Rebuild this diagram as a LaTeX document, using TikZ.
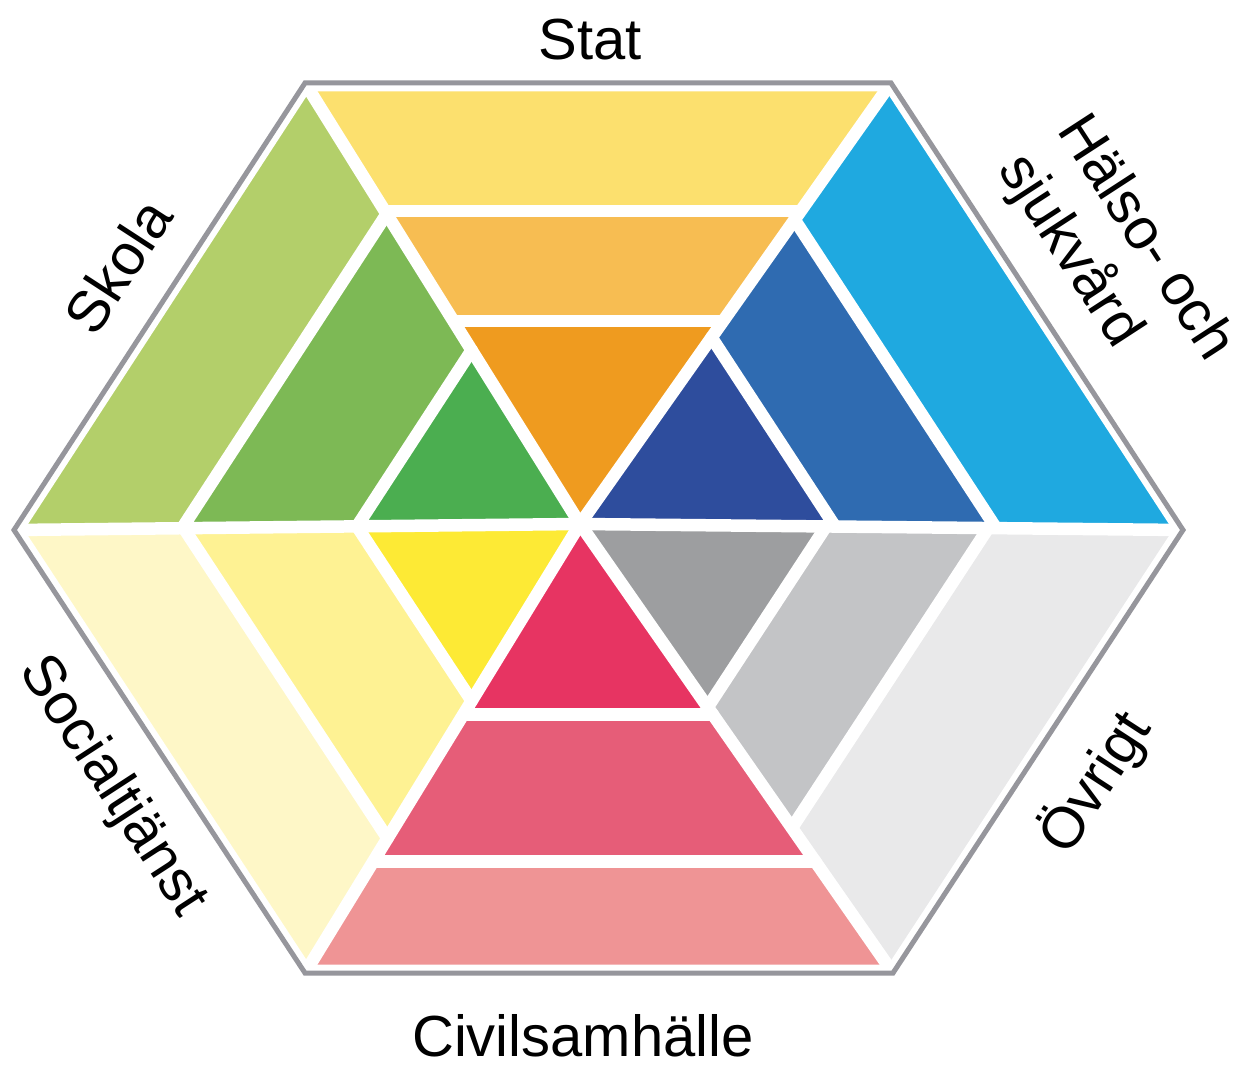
\documentclass[tikz,border=0pt]{standalone}
\usepackage{fontspec}
\setmainfont{Liberation Sans}
\usetikzlibrary{calc}

\definecolor{statOut}{HTML}{FCE06E}
\definecolor{statMid}{HTML}{F7BD52}
\definecolor{statIn}{HTML}{EF9B1F}
\definecolor{halsoOut}{HTML}{1FA9E0}
\definecolor{halsoMid}{HTML}{2F6BB1}
\definecolor{halsoIn}{HTML}{2E4D9D}
\definecolor{ovrOut}{HTML}{E9E9EA}
\definecolor{ovrMid}{HTML}{C3C4C6}
\definecolor{ovrIn}{HTML}{9D9EA0}
\definecolor{civOut}{HTML}{EF9495}
\definecolor{civMid}{HTML}{E65D78}
\definecolor{civIn}{HTML}{E73462}
\definecolor{socOut}{HTML}{FEF7C7}
\definecolor{socMid}{HTML}{FEF293}
\definecolor{socIn}{HTML}{FDEA35}
\definecolor{skolaOut}{HTML}{B3CF6A}
\definecolor{skolaMid}{HTML}{7DB955}
\definecolor{skolaIn}{HTML}{4BAE50}
\definecolor{rimgray}{HTML}{96969C}

\begin{document}
\begin{tikzpicture}[x=0.02cm,y=-0.02cm,
    gap/.style={draw=white,line width=0.25cm,line cap=round},
    rim/.style={draw=rimgray,line width=0.1cm,line join=miter},
    lbl/.style={font=\fontsize{33}{40}\selectfont,inner sep=0pt}]
  \useasboundingbox (0,0) rectangle (1242,1067);
  \coordinate (c) at (580,524);
  \coordinate (vl) at (14,530);
  \coordinate (vtl) at (305,83);
  \coordinate (vtr) at (891,83);
  \coordinate (vr) at (1183,530);
  \coordinate (vbr) at (893,973);
  \coordinate (vbl) at (305,973);
  % six sectors, three bands each
  \foreach \a/\b/\fa/\fb/\ca/\cb/\cc in {
      vtl/vtr/0.46/0.71/statIn/statMid/statOut,
      vtr/vr/0.423/0.69/halsoIn/halsoMid/halsoOut,
      vr/vbr/0.408/0.677/ovrIn/ovrMid/ovrOut,
      vbr/vbl/0.424/0.752/civIn/civMid/civOut,
      vbl/vl/0.394/0.70/socIn/socMid/socOut,
      vl/vtl/0.394/0.703/skolaIn/skolaMid/skolaOut}{
    \fill[\ca] (c) -- ($(c)!\fa!(\a)$) -- ($(c)!\fa!(\b)$) -- cycle;
    \fill[\cb] ($(c)!\fa!(\a)$) -- ($(c)!\fb!(\a)$) -- ($(c)!\fb!(\b)$)
      -- ($(c)!\fa!(\b)$) -- cycle;
    \fill[\cc] ($(c)!\fb!(\a)$) -- (\a) -- (\b) -- ($(c)!\fb!(\b)$) -- cycle;
    \draw[gap] ($(c)!\fa!(\a)$) -- ($(c)!\fa!(\b)$);
    \draw[gap] ($(c)!\fb!(\a)$) -- ($(c)!\fb!(\b)$);
  }
  \foreach \v in {vl,vtl,vtr,vr,vbr,vbl}
    \draw[gap] (c) -- (\v);
  % outline
  \draw[draw=white,line width=0.34cm,line join=miter]
    (vl) -- (vtl) -- (vtr) -- (vr) -- (vbr) -- (vbl) -- cycle;
  \draw[rim] (vl) -- (vtl) -- (vtr) -- (vr) -- (vbr) -- (vbl) -- cycle;
  % labels
  \node[lbl] (stat) at (590,40) {Stat};
  \node[lbl] (civil) at (583,1036) {Civilsamhälle};
  \node[lbl,rotate=57] (skola) at (118,266) {Skola};
  \node[lbl,rotate=-57,align=left] (halso) at (1115,258) {Hälso- och\\sjukvård};
  \node[lbl,rotate=-57] (social) at (112,787) {Socialtjänst};
  \node[lbl,rotate=57] (ovrigt) at (1095,783) {Övrigt};
\end{tikzpicture}
\end{document}
